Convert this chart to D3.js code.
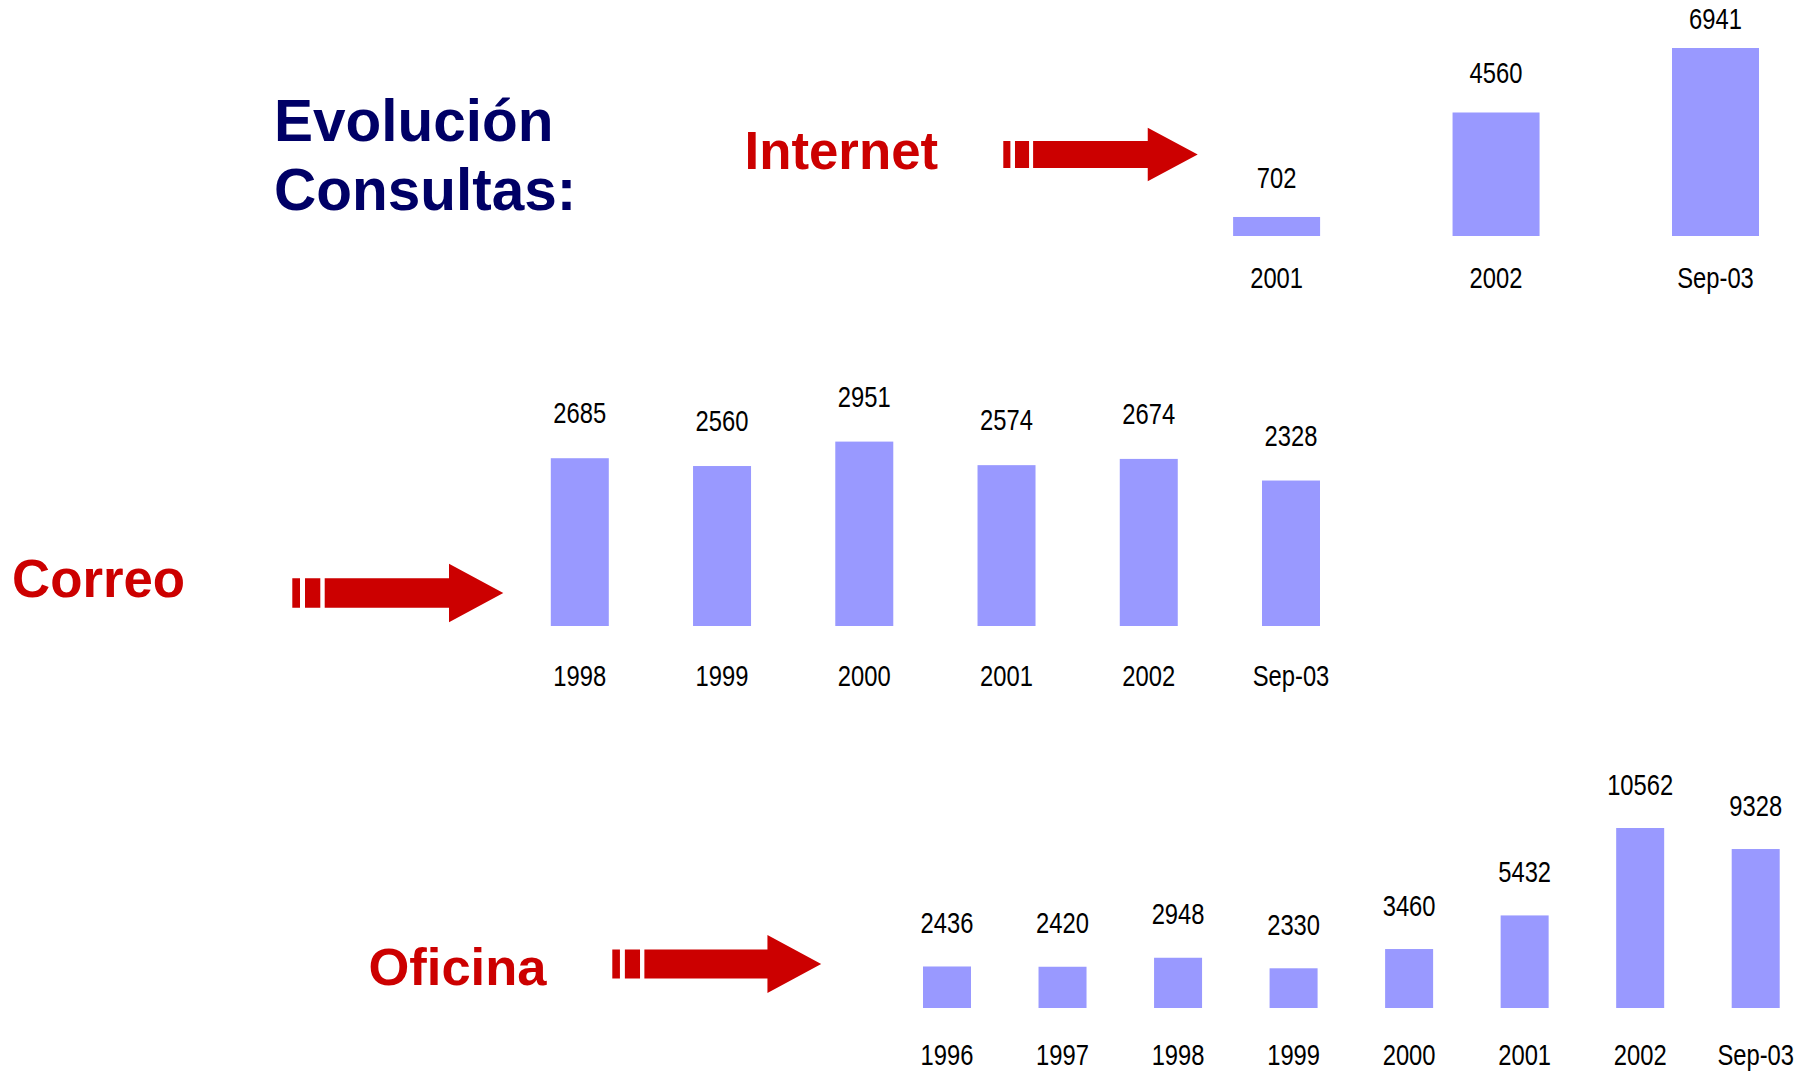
<!DOCTYPE html>
<html>
<head>
<meta charset="utf-8">
<script src="https://cdn.jsdelivr.net/npm/d3@7"></script>
<style>
  html, body { margin: 0; padding: 0; background: #ffffff; }
  svg { display: block; }
</style>
</head>
<body>
<svg id="chart" width="1819" height="1073"></svg>
<script>
// ---- data ----
const internetCats = ["2001", "2002", "Sep-03"];
const internetVals = [702, 4560, 6941];
const correoCats = ["1998", "1999", "2000", "2001", "2002", "Sep-03"];
const correoVals = [2685, 2560, 2951, 2574, 2674, 2328];
const oficinaCats = ["1996", "1997", "1998", "1999", "2000", "2001", "2002", "Sep-03"];
const oficinaVals = [2436, 2420, 2948, 2330, 3460, 5432, 10562, 9328];
const titleLines = ["Evolución", "Consultas:"];
const panelNames = ["Internet", "Correo", "Oficina"];

// ---- layout ----
const svg = d3.select("#chart");
const barColor = "#9999ff";
const red = "#cc0000";
const navy = "#000066";
const numFont = "'Liberation Sans', Arial, sans-serif";
const narrow = 0.82; // Arial Narrow ≈ Arial compressed horizontally
const boldFont = "'Liberation Sans', Arial, sans-serif";

const panels = [
  { name: panelNames[0], cats: internetCats, vals: internetVals,
    x0: 1276.6, x1: 1715.5, barW: 87, base: 236, top: 48, valOff: 29, minLabelY: 28.5, catY: 288,
    labelX: 744.5, labelY: 168.5, labelSize: 52.8, arrow: { x0: 1003.3, x1: 1197.7, cy: 154.5, s: 0.92 } },
  { name: panelNames[1], cats: correoCats, vals: correoVals,
    x0: 579.8, x1: 1291, barW: 58, base: 626, top: 441.6, valOff: 35, minLabelY: 0, catY: 686,
    labelX: 12, labelY: 597, labelSize: 52.8, arrow: { x0: 292.3, x1: 503.3, cy: 593, s: 1.0 } },
  { name: panelNames[2], cats: oficinaCats, vals: oficinaVals,
    x0: 947, x1: 1755.7, barW: 48, base: 1008, top: 828, valOff: 33.5, minLabelY: 0, catY: 1065,
    labelX: 368.5, labelY: 985, labelSize: 52.5, arrow: { x0: 612.3, x1: 821.2, cy: 964, s: 0.99 } }
];

// title
svg.append("g").selectAll("text").data(titleLines).join("text")
  .attr("x", 274)
  .attr("y", (d, i) => 141 + i * 69)
  .attr("font-family", boldFont)
  .attr("font-weight", "bold")
  .attr("font-size", 58.5)
  .attr("fill", navy)
  .text(d => d);

function arrowPath(a) {
  const s = a.s;
  const headL = 54.3 * s, headH = 29.2 * s, shaftH = 14.7 * s;
  const cy = a.cy, x0 = a.x0;
  const sx = x0 + 32.4 * s, hx = a.x1 - headL;
  const p = d3.path();
  p.rect(x0, cy - shaftH, 7.7 * s, 2 * shaftH);
  p.rect(x0 + 12.7 * s, cy - shaftH, 15.3 * s, 2 * shaftH);
  p.moveTo(sx, cy - shaftH);
  p.lineTo(hx, cy - shaftH);
  p.lineTo(hx, cy - headH);
  p.lineTo(a.x1, cy);
  p.lineTo(hx, cy + headH);
  p.lineTo(hx, cy + shaftH);
  p.lineTo(sx, cy + shaftH);
  p.closePath();
  return p.toString();
}

panels.forEach(P => {
  const g = svg.append("g").attr("class", "panel-" + P.name);

  g.append("text")
    .attr("x", P.labelX).attr("y", P.labelY)
    .attr("font-family", boldFont).attr("font-weight", "bold")
    .attr("font-size", P.labelSize).attr("fill", red)
    .text(P.name);

  g.append("path").attr("d", arrowPath(P.arrow)).attr("fill", red);

  const x = d3.scalePoint().domain(P.cats).range([P.x0, P.x1]);
  const y = d3.scaleLinear().domain([0, d3.max(P.vals)]).range([P.base, P.top]);
  const data = P.cats.map((c, i) => ({ c, v: P.vals[i] }));

  g.selectAll("rect.bar").data(data).join("rect")
    .attr("class", "bar")
    .attr("x", d => x(d.c) - P.barW / 2)
    .attr("width", P.barW)
    .attr("y", d => y(d.v))
    .attr("height", d => y(0) - y(d.v))
    .attr("fill", barColor);

  g.selectAll("text.val").data(data).join("text")
    .attr("class", "val")
    .attr("transform", d => `translate(${x(d.c)},${Math.max(y(d.v) - P.valOff, P.minLabelY)}) scale(${narrow},1)`)
    .attr("text-anchor", "middle")
    .attr("font-family", numFont)
    .attr("font-size", 29)
    .attr("fill", "#000")
    .text(d => d.v);

  g.selectAll("text.cat").data(data).join("text")
    .attr("class", "cat")
    .attr("transform", d => `translate(${x(d.c)},${P.catY}) scale(${narrow},1)`)
    .attr("text-anchor", "middle")
    .attr("font-family", numFont)
    .attr("font-size", 29)
    .attr("fill", "#000")
    .text(d => d.c);
});
</script>
</body>
</html>
